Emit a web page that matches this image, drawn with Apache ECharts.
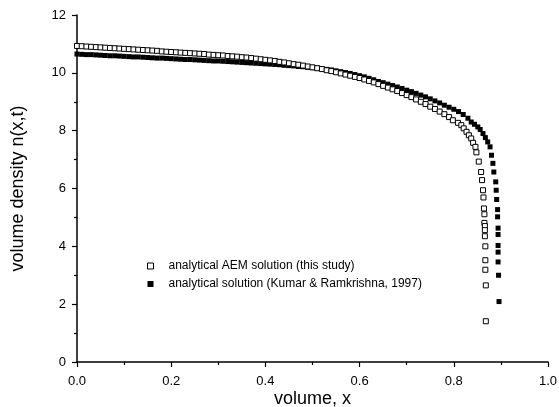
<!DOCTYPE html>
<html>
<head>
<meta charset="utf-8">
<script src="https://cdn.jsdelivr.net/npm/echarts@6/dist/echarts.min.js"></script>
<style>
html,body{margin:0;padding:0;background:#fff;}
#chart{width:559px;height:407px;}
</style>
</head>
<body>
<div id="chart"></div>
<script>
// Open squares: analytical AEM solution (this study)
var aemX = [
0.00,0.01,0.02,0.03,0.04,0.05,0.06,0.07,0.08,0.09,
0.10,0.11,0.12,0.13,0.14,0.15,0.16,0.17,0.18,0.19,
0.20,0.21,0.22,0.23,0.24,0.25,0.26,0.27,0.28,0.29,
0.30,0.31,0.32,0.33,0.34,0.35,0.36,0.37,0.38,0.39,
0.40,0.41,0.42,0.43,0.44,0.45,0.46,0.47,0.48,0.49,
0.50,0.51,0.52,0.53,0.54,0.55,0.56,0.57,0.58,0.59,
0.60,0.61,0.62,0.63,0.64,0.65,0.66,0.67,0.68,0.69,
0.70,0.71,0.72,0.73,0.74,0.75,0.76,0.77,0.78,0.79,
0.798,0.809,0.816,0.821,0.827,0.832,0.837,0.841,0.846,0.848,
0.853,0.858,0.860,0.862,0.863,0.864,0.865,0.865,0.866,0.866,
0.866,0.867,0.867,0.867,0.868,0.868
];
var aemY = [
10.93,10.92,10.91,10.90,10.89,10.88,10.87,10.86,10.85,10.84,
10.83,10.82,10.81,10.80,10.79,10.78,10.77,10.76,10.74,10.73,
10.72,10.71,10.70,10.69,10.68,10.67,10.66,10.65,10.63,10.62,
10.61,10.60,10.58,10.57,10.56,10.54,10.53,10.51,10.49,10.47,
10.45,10.43,10.41,10.38,10.36,10.33,10.30,10.28,10.25,10.22,
10.19,10.16,10.13,10.09,10.06,10.02,9.98,9.94,9.90,9.86,
9.82,9.77,9.72,9.67,9.61,9.55,9.49,9.43,9.37,9.30,
9.23,9.16,9.08,9.00,8.92,8.83,8.75,8.66,8.57,8.47,
8.36,8.27,8.19,8.08,7.96,7.84,7.73,7.58,7.44,7.25,
6.93,6.57,6.29,5.94,5.69,5.31,5.11,4.81,4.70,4.56,
4.35,4.00,3.52,3.19,2.65,1.41
];
// Filled squares: analytical solution (Kumar & Ramkrishna, 1997)
var krX = [
0.00,0.01,0.02,0.03,0.04,0.05,0.06,0.07,0.08,0.09,
0.10,0.11,0.12,0.13,0.14,0.15,0.16,0.17,0.18,0.19,
0.20,0.21,0.22,0.23,0.24,0.25,0.26,0.27,0.28,0.29,
0.30,0.31,0.32,0.33,0.34,0.35,0.36,0.37,0.38,0.39,
0.40,0.41,0.42,0.43,0.44,0.45,0.46,0.47,0.48,0.49,
0.50,0.51,0.52,0.53,0.54,0.55,0.56,0.57,0.58,0.59,
0.60,0.61,0.62,0.63,0.64,0.65,0.66,0.67,0.68,0.69,
0.70,0.71,0.72,0.73,0.74,0.75,0.76,0.77,0.78,0.79,
0.80,0.81,0.82,0.83,
0.837,0.844,0.851,0.856,0.862,0.867,0.872,0.877,0.880,0.883,
0.885,0.889,0.890,0.891,0.893,0.893,0.894,0.894,0.894,0.894,
0.894,0.895,0.896
];
var krY = [
10.65,10.64,10.63,10.63,10.62,10.61,10.60,10.59,10.59,10.58,
10.57,10.56,10.55,10.55,10.54,10.53,10.52,10.51,10.51,10.50,
10.49,10.48,10.47,10.46,10.46,10.45,10.44,10.43,10.42,10.41,
10.41,10.40,10.39,10.38,10.37,10.36,10.35,10.34,10.33,10.32,
10.31,10.30,10.29,10.28,10.26,10.25,10.24,10.22,10.21,10.19,
10.18,10.16,10.14,10.12,10.10,10.07,10.04,10.01,9.98,9.94,
9.90,9.86,9.81,9.76,9.70,9.66,9.61,9.56,9.51,9.46,
9.40,9.35,9.29,9.23,9.17,9.10,9.03,8.96,8.88,8.81,
8.74,8.66,8.56,8.43,
8.30,8.22,8.13,8.04,7.90,7.76,7.61,7.44,7.15,6.87,
6.57,6.23,5.94,5.62,5.27,5.02,4.63,4.41,4.03,3.80,
3.46,3.00,2.09
];
var xTicks = ['0.0','0.2','0.4','0.6','0.8','1.0'];
var yTicks = ['0','2','4','6','8','10','12'];
var seriesNames = ['analytical AEM solution (this study)','analytical solution (Kumar & Ramkrishna, 1997)'];

function pairs(xs, ys){ var out=[]; for(var i=0;i<xs.length;i++){ out.push([xs[i], ys[i]]); } return out; }

var FONT = '"Liberation Sans", Arial, sans-serif';
var chart = echarts.init(document.getElementById('chart'), null, {renderer:'canvas'});
chart.setOption({
  animation:false,
  backgroundColor:'#ffffff',
  textStyle:{fontFamily:FONT,color:'#000'},
  grid:{left:77,right:11,top:15,bottom:45,containLabel:false,outerBoundsMode:'none'},
  legend:{
    orient:'vertical', left:142, top:254, itemGap:4,
    itemWidth:6, itemHeight:6,
    textStyle:{fontFamily:FONT,fontSize:12,lineHeight:14,color:'#000',padding:[0,0,0,10]},
    data:[
      {name:seriesNames[0], icon:'rect', itemStyle:{color:'#fff',borderColor:'#000',borderWidth:1}},
      {name:seriesNames[1], icon:'rect', itemStyle:{color:'#000',borderColor:'#000',borderWidth:0}}
    ]
  },
  xAxis:{
    type:'value', min:0, max:1, interval:0.2,
    name:'volume, x', nameLocation:'middle', nameGap:28, nameMoveOverlap:false,
    nameTextStyle:{fontFamily:FONT,fontSize:18,color:'#000'},
    axisLine:{show:true,onZero:false,lineStyle:{color:'#000',width:1.5}},
    axisTick:{show:true,inside:false,length:5,lineStyle:{color:'#000',width:1.2}},
    minorTick:{show:true,splitNumber:2,length:3,lineStyle:{color:'#000',width:1.2}},
    axisLabel:{margin:13,fontFamily:FONT,fontSize:13,color:'#000',
      formatter:function(v){ var s=v.toFixed(1); return xTicks.indexOf(s)>=0?s:''; }},
    splitLine:{show:false}
  },
  yAxis:{
    type:'value', min:0, max:12, interval:2,
    name:'volume density n(x,t)', nameLocation:'middle', nameGap:50, nameRotate:90, nameMoveOverlap:false,
    nameTextStyle:{fontFamily:FONT,fontSize:18,color:'#000'},
    axisLine:{show:true,onZero:false,lineStyle:{color:'#000',width:1.5}},
    axisTick:{show:true,inside:false,length:5,lineStyle:{color:'#000',width:1.2}},
    minorTick:{show:true,splitNumber:2,length:3,lineStyle:{color:'#000',width:1.2}},
    axisLabel:{margin:11,fontFamily:FONT,fontSize:13,color:'#000',
      formatter:function(v){ var s=String(Math.round(v)); return yTicks.indexOf(s)>=0?s:''; }},
    splitLine:{show:false}
  },
  series:[
    {
      name:seriesNames[1], type:'scatter', symbol:'rect', symbolSize:5,
      itemStyle:{color:'#000',opacity:1},
      data:pairs(krX, krY), z:2
    },
    {
      name:seriesNames[0], type:'scatter', symbol:'rect', symbolSize:5,
      itemStyle:{color:'#fff',borderColor:'#000',borderWidth:1,opacity:1},
      data:pairs(aemX, aemY), z:3
    }
  ]
});
</script>
</body>
</html>
